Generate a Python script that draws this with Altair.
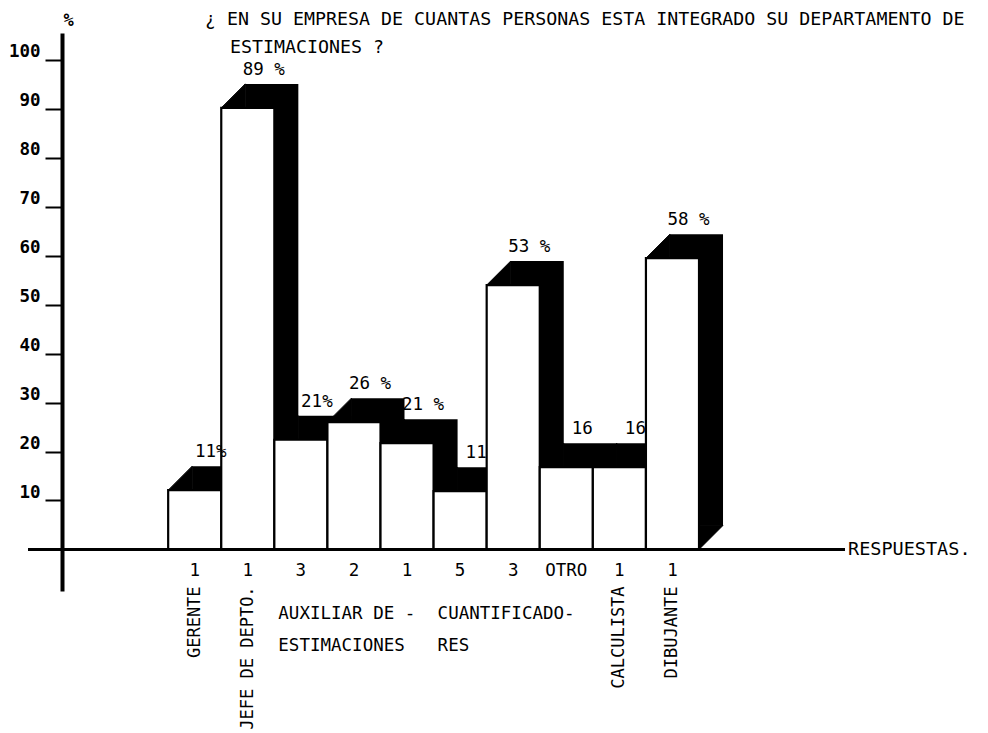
import altair as alt
import pandas as pd

# ---- data ----
counts = ["1", "1", "3", "2", "1", "5", "3", "OTRO", "1", "1"]
heights = [12.1, 90.2, 22.4, 26.0, 21.7, 11.9, 54.0, 16.8, 16.8, 59.5]
pct_labels = ["11%", "89 %", "21%", "26 %", "21 %", "11", "53 %", "16", "16", "58 %"]
vertical_roles = ["GERENTE", "JEFE DE DEPTO.", "", "", "", "", "", "", "CALCULISTA", "DIBUJANTE"]
group_roles = ["AUXILIAR DE -\nESTIMACIONES", "CUANTIFICADO-\nRES"]
group_first_bar = [2, 5]
y_ticks = [10, 20, 30, 40, 50, 60, 70, 80, 90, 100]
title_line1 = "¿ EN SU EMPRESA DE CUANTAS PERSONAS ESTA INTEGRADO SU DEPARTAMENTO DE"
title_line2 = "ESTIMACIONES ?"
x_axis_label = "RESPUESTAS."

FONT = "DejaVu Sans Mono"
LEAD = 2  # empty slots between the y axis and the first bar
D = 24    # 3-D shadow depth in px

df = pd.DataFrame({
    "i": list(range(len(counts))),
    "count": counts,
    "h": heights,
    "pct": pct_labels,
    "role": vertical_roles,
})
df["x0"] = df["i"] + LEAD
df["x1"] = df["x0"] + 1
df["xc"] = df["x0"] + 0.5

groups = pd.DataFrame({"gx": [g + LEAD for g in group_first_bar], "label": group_roles})
one = pd.DataFrame({"a": [0]})

xs = alt.Scale(domain=[0, 14.75], nice=False, zero=False)
ys = alt.Scale(domain=[-8.5, 105.5], nice=False, zero=False)

yaxis = alt.Axis(
    values=y_ticks, grid=False, domainColor="black", domainWidth=4,
    tickColor="black", tickWidth=2, tickSize=17, labelPadding=5,
    labelFont=FONT, labelFontSize=17.5, labelFontWeight="bold", labelColor="black",
    labelBaseline="alphabetic", labelOffset=-3,
    title="%", titleAngle=0, titleX=6, titleY=-13, titleAlign="center",
    titleBaseline="middle", titleFont=FONT, titleFontSize=17, titleFontWeight="bold",
    titleColor="black",
)

base = alt.Chart(df)

shadow = base.mark_bar(color="black", xOffset=D, x2Offset=D, yOffset=-D, y2Offset=-D).encode(
    x=alt.X("x0:Q", scale=xs, axis=None),
    x2="x1:Q",
    y=alt.Y("h:Q", scale=ys, axis=yaxis),
    y2=alt.datum(0),
)

bevel_top = base.mark_point(
    shape="M0,0L1,-1L1,0Z", size=(2 * D) ** 2, filled=True, color="black",
    opacity=1, stroke="black", strokeWidth=1,
).encode(x=alt.X("x0:Q", scale=xs), y=alt.Y("h:Q", scale=ys))

bevel_bottom = base.mark_point(
    shape="M0,0L1,-1L0,-1Z", size=(2 * D) ** 2, filled=True, color="black",
    opacity=1, stroke="black", strokeWidth=1,
).encode(x=alt.X("x1:Q", scale=xs), y=alt.datum(0))

bars = base.mark_bar(fill="white", stroke="black", strokeWidth=2.2).encode(
    x=alt.X("x0:Q", scale=xs), x2="x1:Q",
    y=alt.Y("h:Q", scale=ys), y2=alt.datum(0),
)

pct_text = base.mark_text(font=FONT, fontSize=17.5, color="black", dx=16, dy=-38, baseline="middle").encode(
    x=alt.X("xc:Q", scale=xs), y=alt.Y("h:Q", scale=ys), text="pct:N",
)

count_text = base.mark_text(font=FONT, fontSize=17.5, color="black", dy=22, baseline="middle").encode(
    x=alt.X("xc:Q", scale=xs), y=alt.datum(0), text="count:N",
)

role_text = base.transform_filter(alt.datum.role != "").mark_text(
    font=FONT, fontSize=17, color="black", angle=270, align="right", baseline="middle", dx=-37,
).encode(x=alt.X("xc:Q", scale=xs), y=alt.datum(0), text="role:N")

group_text = alt.Chart(groups).mark_text(
    font=FONT, fontSize=17.5, color="black", align="left", baseline="middle",
    dx=4, dy=65, lineBreak="\n", lineHeight=32,
).encode(x=alt.X("gx:Q", scale=xs), y=alt.datum(0), text="label:N")

xline = alt.Chart(one).mark_rule(color="black", strokeWidth=3).encode(
    x=alt.value(-34), x2=alt.value(783), y=alt.datum(0),
)

xlabel = alt.Chart(one).mark_text(
    font=FONT, fontSize=18.5, color="black", align="left", baseline="middle", dx=3,
).encode(x=alt.value(783), y=alt.datum(0), text=alt.value(x_axis_label))

t1 = alt.Chart(one).mark_text(
    font=FONT, fontSize=18.3, color="black", align="left", baseline="middle",
).encode(x=alt.value(143), y=alt.value(-13), text=alt.value(title_line1))

t2 = alt.Chart(one).mark_text(
    font=FONT, fontSize=18.3, color="black", align="left", baseline="middle",
).encode(x=alt.value(168), y=alt.value(15), text=alt.value(title_line2))

chart = alt.layer(
    shadow, bevel_top, bevel_bottom, bars, pct_text, count_text, role_text,
    group_text, xline, xlabel, t1, t2,
).properties(
    width=783, height=558,
    autosize=alt.AutoSizeParams(type="none"),
    padding={"left": 54, "top": 25, "right": 135, "bottom": 142},
    background="white",
).configure_view(stroke=None)

chart.save("out.html", embed_options={"renderer": "svg", "actions": False})
